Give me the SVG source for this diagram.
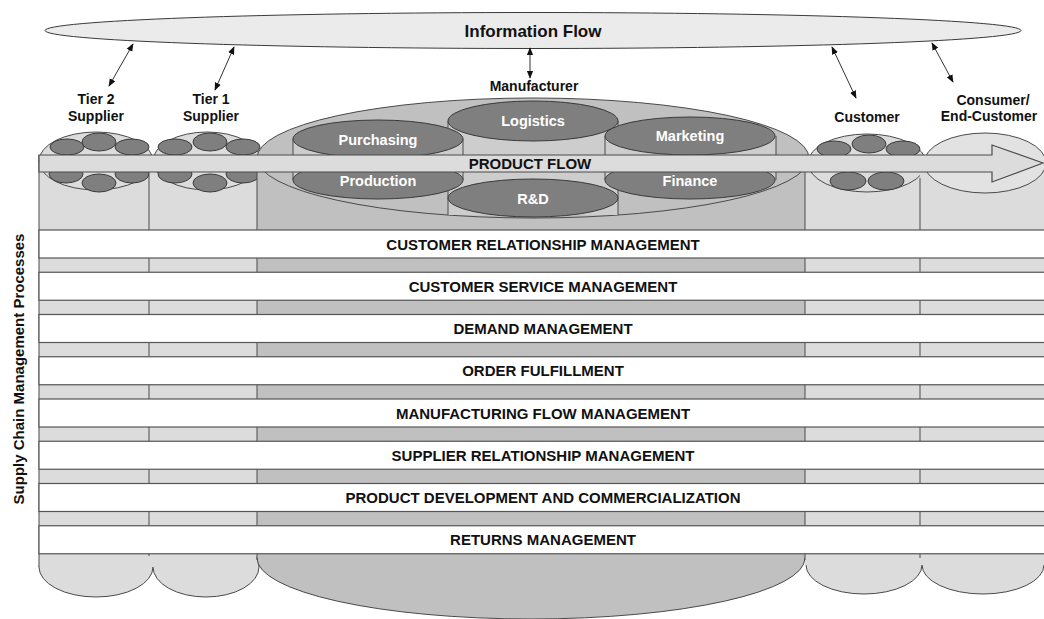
<svg xmlns="http://www.w3.org/2000/svg" width="1044" height="619" viewBox="0 0 1044 619">
<style>
text{font-family:"Liberation Sans",Arial,sans-serif;font-weight:bold;fill:#111}
.lbl{font-size:14px;text-anchor:middle}
.row-t{font-size:15px;text-anchor:middle}
.in{font-size:14.5px;text-anchor:middle;fill:#fff}
.lt{fill:#dcdcdc;stroke:#4a4a4a;stroke-width:1}
.ltn{fill:#dcdcdc}
.md{fill:#c0c0c0;stroke:#4a4a4a;stroke-width:1}
.mdn{fill:#c0c0c0}
.pl{fill:#cdcdcd}
.dk{fill:#7f7f7f;stroke:#3a3a3a;stroke-width:1}
.ln{stroke:#4a4a4a;stroke-width:1;fill:none}
.row{fill:#fff;stroke:#555;stroke-width:1.2}
.conn{stroke:#333;stroke-width:1;fill:none;marker-start:url(#ah);marker-end:url(#ah)}
</style>
<defs>
<marker id="ah" viewBox="0 0 10 10" refX="9" refY="5" markerWidth="8" markerHeight="8" markerUnits="userSpaceOnUse" orient="auto-start-reverse">
<path d="M0,1 L10,5 L0,9 z" fill="#111"/>
</marker>
</defs>
<rect width="1044" height="619" fill="#fff"/>

<g id="information-flow">
<ellipse cx="533" cy="30.5" rx="488" ry="18" fill="#ebebeb" stroke="#3a3a3a" stroke-width="1"/>
<text x="533" y="37" style="font-size:17px" text-anchor="middle">Information Flow</text>
</g>

<g id="tier2-supplier">
<ellipse class="lt" cx="96" cy="567" rx="57" ry="30"/>
<rect class="ltn" x="39" y="161" width="110" height="406"/>
<ellipse class="lt" cx="96" cy="161" rx="57" ry="29"/>
<ellipse class="dk" cx="66" cy="174" rx="17" ry="9"/>
<ellipse class="dk" cx="132" cy="174" rx="17" ry="9"/>
<ellipse class="dk" cx="99" cy="183" rx="17" ry="9"/>
<ellipse class="dk" cx="67" cy="147" rx="17" ry="8"/>
<ellipse class="dk" cx="132" cy="147" rx="17" ry="8"/>
<ellipse class="dk" cx="99" cy="142" rx="17" ry="9"/>
<text class="lbl" x="96" y="104">Tier 2</text>
<text class="lbl" x="96" y="121">Supplier</text>
</g>

<g id="tier1-supplier">
<ellipse class="lt" cx="206" cy="567" rx="53" ry="30"/>
<rect class="ltn" x="149" y="161" width="108" height="406"/>
<ellipse class="lt" cx="207" cy="161" rx="54" ry="29"/>
<ellipse class="dk" cx="175" cy="174" rx="17" ry="9"/>
<ellipse class="dk" cx="243" cy="174" rx="17" ry="9"/>
<ellipse class="dk" cx="210" cy="183" rx="17" ry="9"/>
<ellipse class="dk" cx="175" cy="147" rx="17" ry="8"/>
<ellipse class="dk" cx="243" cy="147" rx="17" ry="8"/>
<ellipse class="dk" cx="210" cy="142" rx="17" ry="9"/>
<text class="lbl" x="211" y="104">Tier 1</text>
<text class="lbl" x="211" y="121">Supplier</text>
</g>

<g id="manufacturer">
<ellipse class="md" cx="531" cy="558" rx="274" ry="61"/>
<rect class="mdn" x="257" y="158" width="548" height="400"/>
<ellipse class="md" cx="533" cy="158" rx="276" ry="60"/>
<rect class="pl" x="448" y="121" width="170" height="94"/>
<path class="ln" d="M448,121 V215 M618,121 V215"/>
<rect class="pl" x="293" y="139" width="170" height="41"/>
<path class="ln" d="M293,139 V180 M463,139 V180"/>
<rect class="pl" x="605" y="136" width="171" height="44"/>
<path class="ln" d="M605,136 V180 M776,136 V180"/>
<ellipse class="dk" cx="378" cy="180" rx="85" ry="19"/>
<ellipse class="dk" cx="690" cy="180" rx="85" ry="19"/>
<ellipse class="dk" cx="533" cy="198" rx="85" ry="19"/>
<ellipse class="dk" cx="533" cy="121" rx="85" ry="20"/>
<ellipse class="dk" cx="378" cy="139" rx="85" ry="19"/>
<ellipse class="dk" cx="690" cy="136" rx="85" ry="19"/>
<text class="in" x="533" y="126">Logistics</text>
<text class="in" x="378" y="145">Purchasing</text>
<text class="in" x="690" y="141">Marketing</text>
<text class="in" x="378" y="186">Production</text>
<text class="in" x="533" y="204">R&amp;D</text>
<text class="in" x="690" y="186">Finance</text>
<text class="lbl" x="534" y="91">Manufacturer</text>
</g>

<g id="customer">
<ellipse class="lt" cx="864" cy="565" rx="58" ry="29"/>
<rect class="ltn" x="805" y="163" width="115" height="402"/>
<ellipse class="lt" cx="867" cy="163" rx="59" ry="29"/>
<ellipse class="dk" cx="848" cy="181" rx="18" ry="9"/>
<ellipse class="dk" cx="886" cy="181" rx="18" ry="9"/>
<ellipse class="dk" cx="834" cy="149" rx="17" ry="8"/>
<ellipse class="dk" cx="903" cy="149" rx="17" ry="8"/>
<ellipse class="dk" cx="869" cy="144" rx="17" ry="9"/>
<text class="lbl" x="867" y="122">Customer</text>
</g>

<g id="consumer">
<ellipse class="lt" cx="983" cy="565" rx="61" ry="29"/>
<rect class="ltn" x="920" y="163" width="130" height="402"/>
<ellipse cx="985" cy="163" rx="61" ry="30" fill="#e2e2e2" stroke="#4a4a4a" stroke-width="1"/>
<text class="lbl" x="993" y="105">Consumer/</text>
<text class="lbl" x="989" y="121">End-Customer</text>
</g>

<g id="column-dividers">
<path class="ln" d="M39,155 V567 M149,172 V556 M257,172 V560 M805,172 V560 M920,178 V558"/>
</g>

<g id="product-flow">
<path d="M39,155 H992 V145 L1043,163 L992,182 V172 H39 Z" fill="#dcdcdc" stroke="#4a4a4a" stroke-width="1.2"/>
<text x="530" y="169" style="font-size:15px" text-anchor="middle">PRODUCT FLOW</text>
</g>

<g id="processes">
<rect class="row" x="39" y="230" width="1015" height="28"/>
<rect class="row" x="39" y="272.25" width="1015" height="28"/>
<rect class="row" x="39" y="314.5" width="1015" height="28"/>
<rect class="row" x="39" y="356.75" width="1015" height="28"/>
<rect class="row" x="39" y="399" width="1015" height="28"/>
<rect class="row" x="39" y="441.25" width="1015" height="28"/>
<rect class="row" x="39" y="483.5" width="1015" height="28"/>
<rect class="row" x="39" y="525.75" width="1015" height="28"/>
<text class="row-t" x="543" y="249.5">CUSTOMER RELATIONSHIP MANAGEMENT</text>
<text class="row-t" x="543" y="291.75">CUSTOMER SERVICE MANAGEMENT</text>
<text class="row-t" x="543" y="334">DEMAND MANAGEMENT</text>
<text class="row-t" x="543" y="376.25">ORDER FULFILLMENT</text>
<text class="row-t" x="543" y="418.5">MANUFACTURING FLOW MANAGEMENT</text>
<text class="row-t" x="543" y="460.75">SUPPLIER RELATIONSHIP MANAGEMENT</text>
<text class="row-t" x="543" y="503">PRODUCT DEVELOPMENT AND COMMERCIALIZATION</text>
<text class="row-t" x="543" y="545.25">RETURNS MANAGEMENT</text>
<text transform="translate(24,369) rotate(-90)" style="font-size:15px" text-anchor="middle">Supply Chain Management Processes</text>
</g>

<g id="connectors">
<line class="conn" x1="133" y1="44" x2="109" y2="86"/>
<line class="conn" x1="234" y1="47" x2="215" y2="90"/>
<line class="conn" x1="530" y1="48" x2="530" y2="78"/>
<line class="conn" x1="832" y1="47" x2="856" y2="98"/>
<line class="conn" x1="932" y1="43" x2="953" y2="82"/>
</g>
</svg>
